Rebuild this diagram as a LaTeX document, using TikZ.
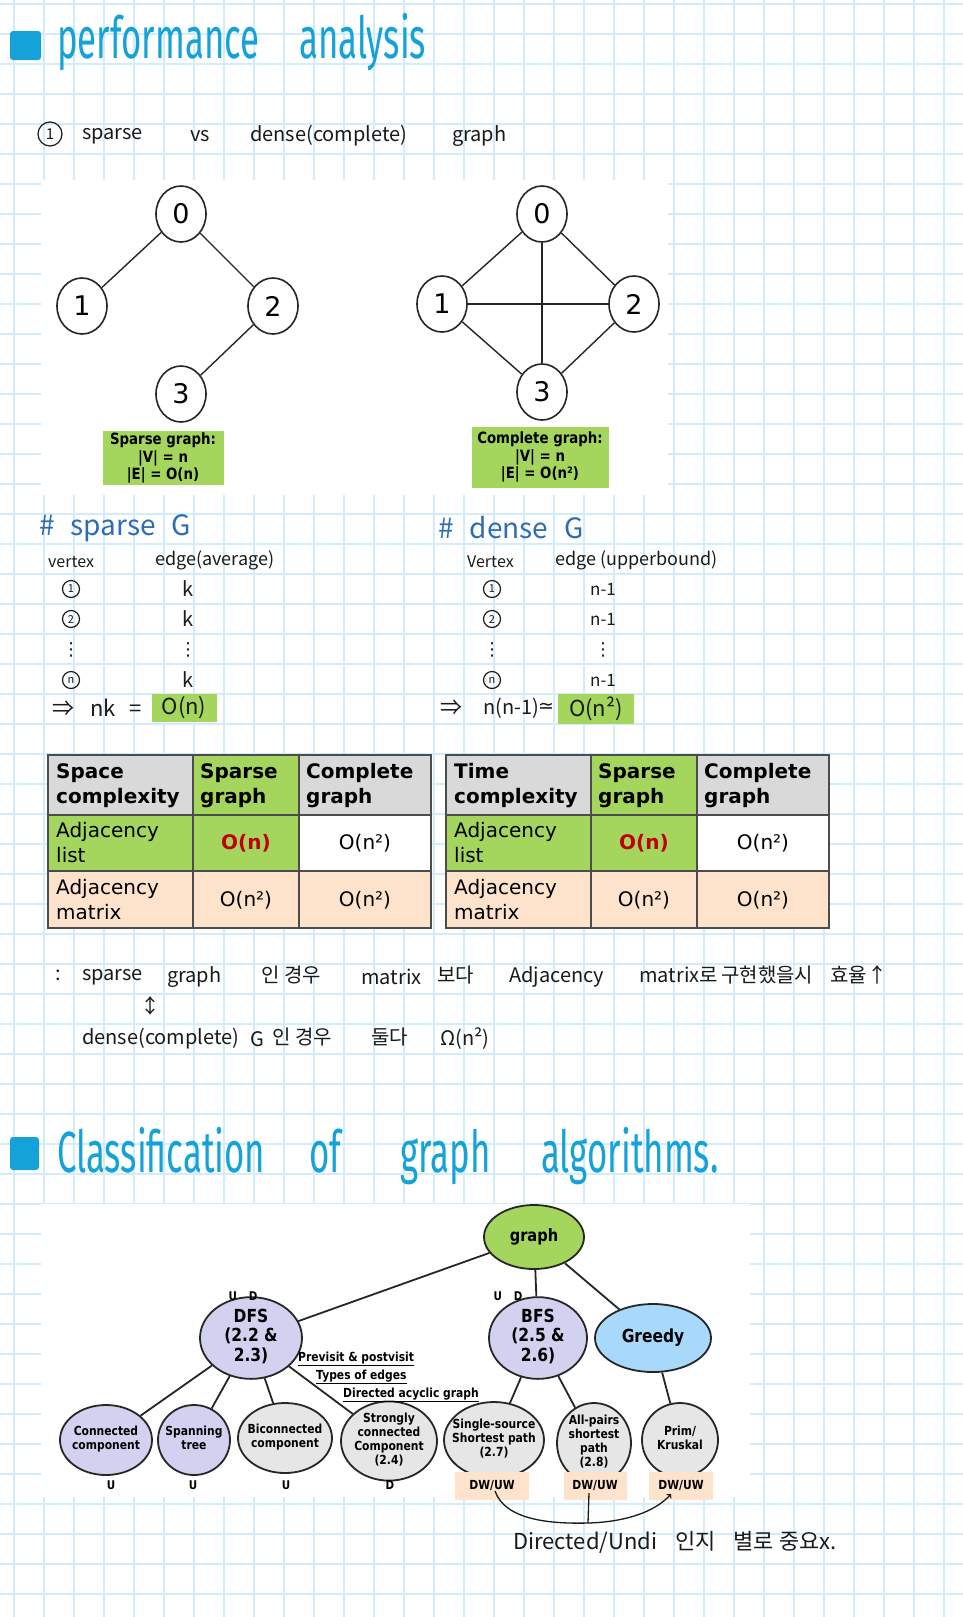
\documentclass[tikz,border=0pt]{standalone}
\usepackage{fontspec}
\setmainfont{DejaVu Sans}
\newfontfamily\dvs{DejaVu Sans}
\newfontfamily\narrow[FakeStretch=0.86]{DejaVu Sans}
\newfontfamily\hand{Noto Sans CJK KR}
\newfontfamily\ttl[FakeStretch=0.6]{Fira Sans}
\usetikzlibrary{shapes,backgrounds,positioning}

\definecolor{gridblue}{HTML}{D2ECFB}
\definecolor{titleblue}{HTML}{14A2D9}
\definecolor{headblue}{HTML}{2E6DB4}
\definecolor{limegreen}{HTML}{A4D65E}
\definecolor{peach}{HTML}{FDE3CB}
\definecolor{cellgray}{HTML}{D9D9D9}
\definecolor{lavender}{HTML}{D2D2F0}
\definecolor{skyblue}{HTML}{A9D9FA}
\definecolor{leafgray}{HTML}{E6E6E6}
\definecolor{darkred}{HTML}{C00000}
\definecolor{ink}{HTML}{1A1A1A}

\newcommand{\setfs}[2]{\fontsize{#1}{#2}\selectfont}
\newcommand{\ovl}[1]{\makebox[0pt]{\begin{tabular}{@{}c@{}}#1\end{tabular}}}

\begin{document}
\begin{tikzpicture}[x=1pt,y=-1pt]
            \tikzstyle{gridline} = [draw=gridblue, line width=2pt]
            \tikzstyle{hw} = [anchor=west, inner sep=0pt, text=ink, font=\hand\setfs{20}{24}]
            \tikzstyle{small hw} = [anchor=west, inner sep=0pt, text=ink, font=\hand\setfs{16}{19}]
            \tikzstyle{circnum} = [circle, draw=ink, line width=1.2pt, inner sep=0pt, minimum size=17pt, text=ink, font=\hand\setfs{11}{12}]
            \tikzstyle{title} = [anchor=base west, inner sep=0pt, text=titleblue, font=\ttl\setfs{58}{60}]
            \tikzstyle{vert} = [ellipse, draw=black!85, line width=1.6pt, fill=white, minimum width=50pt, minimum height=56pt, inner sep=0pt, font=\setfs{27}{27}]
            \tikzstyle{link} = [line width=1.4pt, draw=black!85]
            \tikzstyle{lbl} = [fill=limegreen, align=center, inner sep=0pt, font=\narrow\bfseries\setfs{15.5}{17.5}]
            \tikzstyle{tblline} = [draw=black!70, line width=1.5pt]
            \tikzstyle{head} = [anchor=west, align=left, inner sep=0pt, font=\bfseries\setfs{20}{25}]
            \tikzstyle{body} = [anchor=west, align=left, inner sep=0pt, font=\setfs{20}{25}]
            \tikzstyle{val} = [inner sep=0pt, font=\setfs{20}{25}]
            \tikzstyle{algo} = [ellipse, draw=black!85, line width=1.8pt, inner sep=0pt, font=\narrow\bfseries\setfs{18}{19}]
            \tikzstyle{leaf} = [ellipse, draw=black!85, line width=1.8pt, inner sep=0pt, fill=leafgray, font=\narrow\bfseries\setfs{12.5}{14}]
            \tikzstyle{branch} = [line width=1.8pt, draw=black!85]
            \tikzstyle{tag} = [inner sep=0pt, font=\narrow\bfseries\setfs{12}{13}]
            \tikzstyle{note} = [anchor=west, inner sep=0pt, font=\narrow\bfseries\setfs{12.5}{14}]
            \tikzstyle{dwbox} = [fill=peach, inner sep=0pt, font=\narrow\bfseries\setfs{12.5}{14}]
            \tikzstyle{pen} = [draw=ink, line width=1.3pt]

            \useasboundingbox (0,0) rectangle (963,1617);
            \fill[white] (0,0) rectangle (963,1617);
            \foreach \gx in {13.7,43.7,...,963} \draw[gridline] (\gx,0) -- (\gx,1617);
            \foreach \gy in {3.7,33.7,...,1617} \draw[gridline] (0,\gy) -- (963,\gy);

            % performance analysis
            \fill[titleblue, rounded corners=3pt] (10,31) rectangle (41,60);
            \node[title] (perf) at (57,58) {performance};
            \node[title] (anal) at (299,58) {analysis};

            \node[circnum, minimum size=24pt, font=\hand\setfs{15}{16}] (one) at (50,134) {1};
            \node[hw] (sp) at (82,136) {sparse};
            \node[hw] (vs) at (190,136) {vs};
            \node[hw] (dense) at (250,136) {dense(complete)};
            \node[hw] (gr) at (452,136) {graph};

            % sparse and complete graph
            \fill[white] (41,180) rectangle (668,495);
            \node[vert] (s0) at (181,214) {0};
            \node[vert] (s1) at (82,306) {1};
            \node[vert] (s2) at (273,306) {2};
            \node[vert] (s3) at (181,394) {3};
            \draw[link] (s0) -- (s1);
            \draw[link] (s0) -- (s2);
            \draw[link] (s2) -- (s3);
            \node[lbl, minimum width=121pt, minimum height=54pt] (sparselbl) at (163,458) {Sparse graph:\\|V| = n\\|E| = O(n)};

            \node[vert] (c0) at (542,214) {0};
            \node[vert] (c1) at (442,304) {1};
            \node[vert] (c2) at (634,304) {2};
            \node[vert] (c3) at (542,392) {3};
            \draw[link] (c0) -- (c1);
            \draw[link] (c0) -- (c2);
            \draw[link] (c0) -- (c3);
            \draw[link] (c1) -- (c2);
            \draw[link] (c1) -- (c3);
            \draw[link] (c2) -- (c3);
            \node[lbl, minimum width=137pt, minimum height=61pt] (completelbl) at (540,457) {Complete graph:\\|V| = n\\|E| = O(n²)};

            % sparse G / dense G
            \node[hw, text=headblue, font=\hand\setfs{28}{30}] (sparseG) at (39,528) {\#\hspace{16pt}sparse\hspace{16pt}G};
            \node[hw, text=headblue, font=\hand\setfs{28}{30}] (denseG) at (438,528) {\#\hspace{16pt}dense\hspace{16pt}G};

            \node[small hw] (vtx1) at (48,562) {vertex};
            \node[small hw, font=\hand\setfs{18}{20}] (edg1) at (155,560) {edge(average)};
            \node[circnum] (a1) at (71,589) {1};
            \node[circnum] (a2) at (71,619) {2};
            \node[hw, anchor=center, font=\dvs\setfs{18}{20}] (a3) at (71,650) {⋮};
            \node[circnum] (a4) at (71,680) {n};
            \node[hw, anchor=center] (k1) at (188,589) {k};
            \node[hw, anchor=center] (k2) at (188,619) {k};
            \node[hw, anchor=center, font=\dvs\setfs{18}{20}] (k3) at (188,650) {⋮};
            \node[hw, anchor=center] (k4) at (188,680) {k};
            \node[hw, font=\hand\setfs{22}{24}] (imp1) at (52,708) {⇒\hspace{16pt}nk\hspace{14pt}=};
            \node[hw, anchor=center, fill=limegreen, minimum width=65pt, minimum height=28pt, font=\hand\setfs{22}{24}] (on) at (184,708) {O(n)};

            \node[small hw] (vtx2) at (467,562) {Vertex};
            \node[small hw, font=\hand\setfs{18}{20}] (edg2) at (555,560) {edge (upperbound)};
            \node[circnum] (b1) at (492,589) {1};
            \node[circnum] (b2) at (492,619) {2};
            \node[hw, anchor=center, font=\dvs\setfs{18}{20}] (b3) at (492,650) {⋮};
            \node[circnum] (b4) at (492,680) {n};
            \node[hw, anchor=center, font=\hand\setfs{17}{20}] (m1) at (603,589) {n-1};
            \node[hw, anchor=center, font=\hand\setfs{17}{20}] (m2) at (603,619) {n-1};
            \node[hw, anchor=center, font=\dvs\setfs{18}{20}] (m3) at (603,650) {⋮};
            \node[hw, anchor=center, font=\hand\setfs{17}{20}] (m4) at (603,680) {n-1};
            \node[hw, font=\hand\setfs{22}{24}] (imp2) at (440,708) {⇒};
            \node[hw, font=\hand\setfs{20}{24}] (nn1) at (483,708) {n(n-1)};
            \node[hw, anchor=center, font=\dvs\setfs{19}{24}] (approx) at (546,708) {≃};
            \node[hw, anchor=center, fill=limegreen, minimum width=76pt, minimum height=30pt, font=\hand\setfs{22}{24}] (onn) at (596,709) {O(n²)};

            % space complexity table
            \fill[cellgray] (48,755) rectangle (431,815);
            \fill[limegreen] (193,755) rectangle (299,815);
            \fill[limegreen] (48,815) rectangle (299,871);
            \fill[white] (299,815) rectangle (431,871);
            \fill[peach] (48,871) rectangle (431,928);
            \draw[tblline] (48,755) rectangle (431,928);
            \draw[tblline] (193,755) -- (193,928);
            \draw[tblline] (299,755) -- (299,928);
            \draw[tblline] (48,815) -- (431,815);
            \draw[tblline] (48,871) -- (431,871);
            \node[head] (sph) at (56,786) {Space\\complexity};
            \node[head] (sps) at (200,786) {Sparse\\graph};
            \node[head] (spc) at (306,786) {Complete\\graph};
            \node[body] (spl) at (56,843) {Adjacency\\list};
            \node[val, text=darkred, font=\bfseries\setfs{20}{25}] (spl1) at (246,843) {O(n)};
            \node[val] (spl2) at (365,843) {O(n²)};
            \node[body] (spm) at (56,900) {Adjacency\\matrix};
            \node[val] (spm1) at (246,900) {O(n²)};
            \node[val] (spm2) at (365,900) {O(n²)};

            % time complexity table
            \fill[cellgray] (446,755) rectangle (829,815);
            \fill[limegreen] (591,755) rectangle (697,815);
            \fill[limegreen] (446,815) rectangle (697,871);
            \fill[white] (697,815) rectangle (829,871);
            \fill[peach] (446,871) rectangle (829,928);
            \draw[tblline] (446,755) rectangle (829,928);
            \draw[tblline] (591,755) -- (591,928);
            \draw[tblline] (697,755) -- (697,928);
            \draw[tblline] (446,815) -- (829,815);
            \draw[tblline] (446,871) -- (829,871);
            \node[head] (tmh) at (454,786) {Time\\complexity};
            \node[head] (tms) at (598,786) {Sparse\\graph};
            \node[head] (tmc) at (704,786) {Complete\\graph};
            \node[body] (tml) at (454,843) {Adjacency\\list};
            \node[val, text=darkred, font=\bfseries\setfs{20}{25}] (tml1) at (644,843) {O(n)};
            \node[val] (tml2) at (763,843) {O(n²)};
            \node[body] (tmm) at (454,900) {Adjacency\\matrix};
            \node[val] (tmm1) at (644,900) {O(n²)};
            \node[val] (tmm2) at (763,900) {O(n²)};

            % note under the tables
            \node[hw] (colon) at (55,975) {:};
            \node[hw] (w1) at (82,977) {sparse};
            \node[hw] (w2) at (167,977) {graph};
            \node[hw] (w3) at (261,975) {인 경우};
            \node[hw] (w4) at (361,977) {matrix};
            \node[hw] (w5) at (437,975) {보다};
            \node[hw] (w6) at (509,977) {Adjacency};
            \node[hw] (w7) at (639,975) {matrix로};
            \node[hw] (w8) at (721,975) {구현했을시};
            \node[hw] (w9) at (830,975) {효율↑};
            \node[hw, anchor=center] (updown) at (150,1006) {↕};
            \node[hw] (x1) at (82,1039) {dense(complete)};
            \node[hw] (x2) at (250,1039) {G};
            \node[hw] (x3) at (272,1037) {인 경우};
            \node[hw] (x4) at (371,1037) {둘다};
            \node[hw] (x5) at (440,1039) {Ω(n²)};

            % classification of graph algorithms
            \fill[titleblue, rounded corners=3pt] (10,1137) rectangle (39,1170);
            \node[title] (cls) at (57,1172) {Classification};
            \node[title] (of) at (309,1172) {of};
            \node[title] (grph) at (400,1172) {graph};
            \node[title] (algs) at (541,1172) {algorithms.};

            \fill[white] (41,1204) rectangle (750,1497);
            \node[algo, fill=limegreen, minimum width=100pt, minimum height=64pt, font=\narrow\bfseries\setfs{17}{18}] (graph) at (534,1237) {graph};
            \node[algo, fill=lavender, minimum width=102pt, minimum height=74pt] (dfs) at (251,1338) {\ovl{DFS\\(2.2 \&\\2.3)}};
            \node[algo, fill=lavender, minimum width=98pt, minimum height=74pt] (bfs) at (538,1338) {\ovl{BFS\\(2.5 \&\\2.6)}};
            \node[algo, fill=skyblue, minimum width=116pt, minimum height=68pt] (greedy) at (653,1338) {\ovl{Greedy}};
            \node[leaf, fill=lavender, minimum width=92pt, minimum height=70pt] (cc) at (106,1440) {\ovl{Connected\\component}};
            \node[leaf, fill=lavender, minimum width=72pt, minimum height=70pt] (st) at (194,1440) {\ovl{Spanning\\tree}};
            \node[leaf, minimum width=94pt, minimum height=70pt] (bc) at (285,1438) {\ovl{Biconnected\\component}};
            \node[leaf, minimum width=96pt, minimum height=76pt] (scc) at (389,1441) {\ovl{Strongly\\connected\\Component\\(2.4)}};
            \node[leaf, minimum width=100pt, minimum height=76pt] (sssp) at (494,1440) {\ovl{Single-source\\Shortest path\\(2.7)}};
            \node[leaf, minimum width=74pt, minimum height=80pt] (apsp) at (594,1443) {\ovl{All-pairs\\shortest\\path\\(2.8)}};
            \node[leaf, minimum width=76pt, minimum height=74pt] (pk) at (680,1440) {\ovl{Prim/\\Kruskal}};

            \draw[branch] (graph) -- (dfs);
            \draw[branch] (graph) -- (bfs);
            \draw[branch] (graph) -- (greedy);
            \draw[branch] (dfs) -- (cc);
            \draw[branch] (dfs) -- (st);
            \draw[branch] (dfs) -- (bc);
            \draw[branch] (dfs) -- (scc);
            \draw[branch] (bfs) -- (sssp);
            \draw[branch] (bfs) -- (apsp);
            \draw[branch] (greedy) -- (pk);

            \node[tag] (ud1) at (243,1296) {U\hspace{12pt}D};
            \node[tag] (ud2) at (508,1296) {U\hspace{12pt}D};
            \node[note] (prev) at (298,1359) {\underline{Previsit \& postvisit}};
            \node[note] (types) at (316,1377) {\underline{Types of edges}};
            \node[note] (dag) at (343,1395) {\underline{Directed acyclic graph}};
            \node[tag] (u1) at (111,1485) {U};
            \node[tag] (u2) at (193,1485) {U};
            \node[tag] (u3) at (286,1485) {U};
            \node[tag] (d1) at (390,1485) {D};
            \node[dwbox, minimum width=74pt, minimum height=28pt] (dw1) at (492,1486) {DW/UW};
            \node[dwbox, minimum width=63pt, minimum height=28pt] (dw2) at (595,1486) {DW/UW};
            \node[dwbox, minimum width=64pt, minimum height=28pt] (dw3) at (681,1486) {DW/UW};

            % handwritten remark
            \coordinate (dip) at (588,1523);
            \draw[pen, ->] ([shift={(3,5)}]dw1.center) .. controls (505,1520) and (550,1524) .. (dip) .. controls (625,1522) and (655,1512) .. ([shift={(-10,8)}]dw3.center);
            \draw[pen] ([shift={(-6,7)}]dw2.center) -- (dip);
            \node[hw, font=\hand\setfs{22}{24}] (remark) at (513,1542) {Directed/Undi\hspace{18pt}인지\hspace{18pt}별로 중요x.};
        \end{tikzpicture}
\end{document}
